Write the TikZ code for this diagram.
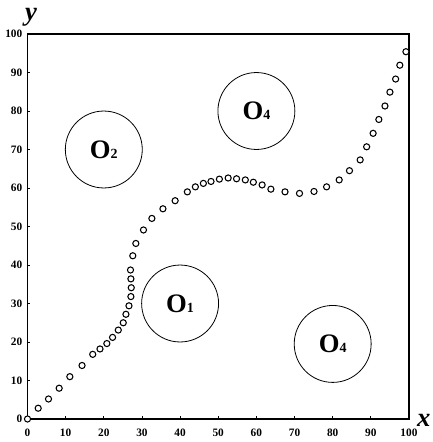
\documentclass[tikz,border=0pt]{standalone}
\usepackage{fontspec}
\setmainfont{Liberation Serif}
\begin{document}
\begin{tikzpicture}[x=2.861pt,y=2.8875pt,
  frame/.style={line width=0.8pt},
  obst/.style={circle,draw,line width=0.6pt,minimum size=57.7pt,inner sep=0pt,font=\bfseries\fontsize{20}{20}\selectfont},
  pt/.style={draw,line width=0.8pt,fill=white},
  ticklab/.style={font=\bfseries\fontsize{8.5}{8.5}\selectfont,inner sep=0pt},
  axlab/.style={font=\bfseries\itshape\fontsize{20}{20}\selectfont,inner sep=0pt}]
\useasboundingbox (-7.21,-5.97) rectangle (106.29,108.83);
% frame
\draw[frame] (0,0) rectangle (100,100);
\foreach \v in {10,20,...,90} {
  \draw[line width=0.6pt] (\v,0) -- (\v,0.9);
  \draw[line width=0.6pt] (0,\v) -- (0.7,\v);
}
\foreach \v in {0,10,...,100} {
  \node[ticklab,anchor=east] (yl\v) at (-1.3,\v) {\v};
  \node[ticklab] (xl\v) at (\v,-3.7) {\v};
}
\node[axlab] (ylab) at (0.9,104.4) {y};
\node[axlab] (xlab) at (103.9,-0.3) {x};
% obstacles
\newcommand{\obsl}[1]{O\raisebox{0pt}{\fontsize{10.5}{10.5}\selectfont #1}}
\node[obst] (o2) at (20,70) {\obsl{2}};
\node[obst] (o4a) at (60,80) {\obsl{4}};
\node[obst] (o1) at (40,30) {\obsl{1}};
\node[obst] (o4b) at (80,19.5) {\obsl{4}};
% path points
\foreach \px/\py in {0/0,2.8/2.8,5.5/5.2,8.3/8.0,11.1/11,14.3/13.9,17.1/16.8,19/18.2,20.8/19.6,22.3/21.2,23.8/23.1,25.1/25,25.8/27.2,26.6/29.4,27.1/31.8,27.2/34.1,27.1/36.4,27/38.7,27.6/42.4,28.4/45.6,30.4/49.1,32.6/52.1,35.5/54.6,38.7/56.7,41.9/59,44/60.3,46.1/61.2,48.1/61.7,50.3/62.3,52.6/62.6,54.8/62.4,57.1/62.1,59.2/61.5,61.5/60.8,63.8/59.7,67.5/59,71.3/58.6,75.1/59.1,78.4/60.3,81.7/62.1,84.4/64.5,87.2/67.3,88.9/70.7,90.6/74.2,92.1/77.8,93.7/81.3,95/84.9,96.5/88.3,97.6/91.9,99.2/95.4}
  \draw[pt] (\px,\py) circle (2.3pt);
\end{tikzpicture}
\end{document}
